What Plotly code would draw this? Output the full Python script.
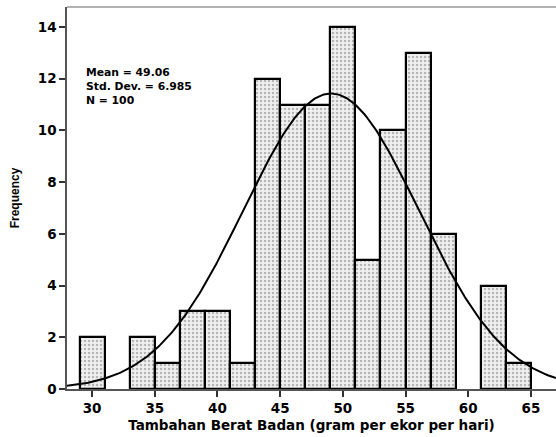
import numpy as np
import plotly.graph_objects as go

# Data (bin start, width 2)
bin_starts = [29, 31, 33, 35, 37, 39, 41, 43, 45, 47, 49, 51, 53, 55, 57, 59, 61, 63]
counts     = [2, 0, 2, 1, 3, 3, 1, 12, 11, 11, 14, 5, 10, 13, 6, 0, 4, 1]
bin_width = 2
mean = 49.06
std_dev = 6.985
n_total = 100
x_ticks = [30, 35, 40, 45, 50, 55, 60, 65]
y_ticks = [0, 2, 4, 6, 8, 10, 12, 14]
stats_lines = ["Mean = 49.06", "Std. Dev. = 6.985", "N = 100"]

font_fam = "DejaVu Sans"

bx = [s + bin_width / 2 for s, c in zip(bin_starts, counts) if c > 0]
by = [c for c in counts if c > 0]

fig = go.Figure()
fig.add_trace(go.Bar(
    x=bx, y=by, width=bin_width,
    marker=dict(
        color="#e0e0e0",
        line=dict(color="black", width=2.2),
        pattern=dict(shape=".", fgcolor="#7a7a7a", bgcolor="#f0f0f0", size=4, solidity=0.3),
    ),
    showlegend=False, hoverinfo="skip",
))

xc = np.linspace(28, 67, 300)
yc = n_total * bin_width / (std_dev * np.sqrt(2 * np.pi)) * np.exp(-0.5 * ((xc - mean) / std_dev) ** 2)
fig.add_trace(go.Scatter(x=xc, y=yc, mode="lines", line=dict(color="black", width=2),
                         showlegend=False, hoverinfo="skip"))

fig.add_annotation(
    x=0.036, y=0.792, xref="paper", yref="paper", xanchor="left", yanchor="middle",
    text="<br>".join(stats_lines), showarrow=False, align="left", borderpad=0,
    font=dict(family=font_fam, size=10.8, color="black", weight="bold"),
)

fig.update_layout(
    width=556, height=437,
    margin=dict(l=67, r=0, t=7, b=48),
    paper_bgcolor="white", plot_bgcolor="white",
    bargap=0,
    xaxis=dict(
        range=[28, 67], tickvals=x_ticks, ticks="outside", ticklen=6, tickwidth=1.5,
        tickcolor="#333", showline=True, linecolor="#555", linewidth=1.5,
        showgrid=False, zeroline=False,
        tickfont=dict(family=font_fam, size=13.5, color="black", weight="bold"),
        title=dict(text="Tambahan Berat Badan (gram per ekor per hari)", standoff=6,
                   font=dict(family=font_fam, size=13.5, color="black", weight="bold")),
    ),
    yaxis=dict(
        range=[0, 14.77], tickvals=y_ticks, ticks="outside", ticklen=6, tickwidth=1.5,
        tickcolor="#333", showline=True, linecolor="#555", linewidth=1.5,
        showgrid=False, zeroline=False,
        tickfont=dict(family=font_fam, size=13.5, color="black", weight="bold"),
        title=dict(text="Frequency", standoff=16,
                   font=dict(family="Liberation Sans", size=12, color="black", weight="bold")),
    ),
)
fig.add_shape(type="line", xref="paper", yref="paper", x0=0, x1=1, y0=1, y1=1,
              line=dict(color="#999", width=1.5))

fig.write_html("out.html", config={"displayModeBar": False},
               post_script="document.body.style.margin='0';document.body.style.overflow='hidden';")
